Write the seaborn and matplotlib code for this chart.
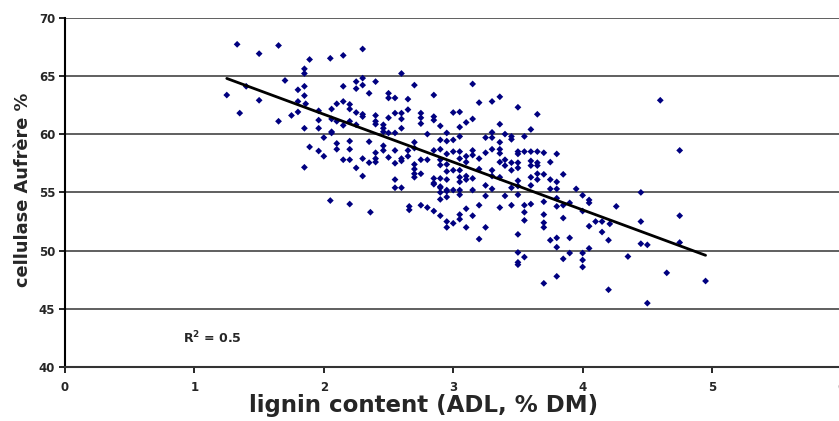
import numpy as np
import pandas as pd
import seaborn as sns
import matplotlib
matplotlib.use("Agg")
import matplotlib.pyplot as plt

# lignin content (ADL, % DM) and cellulase solubility
lignin = [
    1.25, 1.33, 1.35, 1.40, 1.50, 1.50, 1.65, 1.65, 1.70, 1.75, 1.80, 1.80, 1.80, 1.85, 1.85, 1.85,
    1.85, 1.86, 1.85, 1.89, 1.89, 1.85, 1.96, 1.96, 1.96, 1.96, 2.00, 2.00,
    2.05, 2.15, 2.30, 2.06, 2.06, 2.06, 2.06, 2.10, 2.10, 2.10, 2.10, 2.15, 2.15, 2.15, 2.15,
    2.20, 2.20, 2.20, 2.20, 2.20, 2.20, 2.20, 2.05, 2.25, 2.25, 2.25, 2.25, 2.25, 2.30, 2.30,
    2.30, 2.30, 2.30, 2.30, 2.35, 2.35, 2.35, 2.36, 2.40, 2.40, 2.40, 2.40, 2.40, 2.40, 2.40,
    2.46, 2.46, 2.46, 2.46, 2.46,
    2.50, 2.50, 2.50, 2.50, 2.50, 2.55, 2.55, 2.55, 2.55, 2.55, 2.55, 2.55, 2.60, 2.60, 2.60,
    2.60, 2.60, 2.60, 2.60, 2.65, 2.65, 2.65, 2.65, 2.66, 2.66, 2.70, 2.70, 2.70, 2.70, 2.70,
    2.70, 2.70, 2.75, 2.75, 2.75, 2.75, 2.75, 2.75, 2.80, 2.80, 2.80, 2.85, 2.85, 2.85, 2.85,
    2.85, 2.85, 2.85, 2.85, 2.90, 2.90, 2.90, 2.90, 2.90, 2.90, 2.90, 2.90, 2.90, 2.90, 2.90,
    2.95, 2.95, 2.95, 2.95, 2.95, 2.95, 2.95, 2.95, 2.95, 2.95, 2.95,
    3.00, 3.05, 3.00, 3.00, 3.00, 3.00, 3.00, 3.05, 3.05, 3.05, 3.05, 3.05, 3.05, 3.05, 3.05,
    3.05, 3.05, 3.05, 3.10, 3.10, 3.10, 3.10, 3.10, 3.10, 3.10, 3.15, 3.15, 3.15, 3.15, 3.15,
    3.15, 3.15, 3.20, 3.20, 3.20, 3.20, 3.20, 3.25, 3.25, 3.25, 3.25, 3.25, 3.30, 3.30, 3.30,
    3.30, 3.30, 3.30, 3.30, 3.36, 3.36, 3.36, 3.36, 3.36, 3.36, 3.36, 3.36, 3.40, 3.40, 3.40,
    3.40, 3.45, 3.45, 3.45, 3.45, 3.45, 3.45,
    3.50, 3.50, 3.50, 3.50, 3.50, 3.50, 3.50, 3.50, 3.50, 3.50, 3.50, 3.50, 3.55, 3.55, 3.55,
    3.55, 3.55, 3.55, 3.60, 3.60, 3.60, 3.60, 3.60, 3.60, 3.60, 3.65, 3.65, 3.65, 3.65, 3.65,
    3.65, 3.70, 3.70, 3.70, 3.70, 3.70, 3.70, 3.70, 3.75, 3.75, 3.75, 3.75, 3.80, 3.80, 3.80,
    3.80, 3.80, 3.80, 3.80, 3.80, 3.85, 3.85, 3.85, 3.85, 3.90, 3.90, 3.90, 3.95, 4.00, 4.00,
    4.00, 4.00, 4.00, 4.05, 4.05, 4.05, 4.05, 4.10, 4.15, 4.15, 4.20, 4.20, 4.21, 4.26, 4.35,
    4.45, 4.45, 4.45, 4.50, 4.50, 4.60, 4.65, 4.75, 4.75, 4.75, 4.95,
]
cellulase = [
    63.35, 67.7, 61.8, 64.1, 66.9, 62.9, 67.6, 61.1, 64.6, 61.6, 63.8, 62.8, 61.9, 65.6, 65.2, 64.1,
    63.3, 62.6, 60.5, 66.4, 58.9, 57.15, 62.0, 61.2, 60.5, 58.55, 59.7, 58.1,
    66.5, 66.75, 67.3, 62.15, 61.3, 60.2, 60.1, 62.6, 61.1, 59.2, 58.7, 64.1, 62.8, 60.75, 57.8,
    62.55, 62.15, 61.1, 59.4, 58.7, 57.8, 54.0, 54.3, 64.5, 63.9, 61.85, 60.8, 57.1, 64.8, 64.2,
    61.7, 61.5, 57.9, 56.4, 63.5, 59.35, 57.55, 53.3, 64.5, 61.6, 61.1, 60.85, 58.4, 57.9, 57.6,
    60.8, 60.5, 60.2, 59.0, 58.6,
    63.5, 63.1, 61.4, 60.1, 58.0, 63.1, 61.8, 60.1, 58.6, 57.5, 56.1, 55.4, 65.2, 61.8, 61.3,
    60.5, 57.9, 57.7, 55.4, 63.0, 62.1, 58.6, 58.1, 53.8, 53.5, 64.2, 59.3, 58.8, 57.4, 57.0,
    56.6, 56.3, 61.8, 61.4, 60.9, 57.8, 56.6, 53.9, 60.0, 57.8, 53.7, 63.35, 61.5, 61.2, 58.6,
    56.2, 55.8, 55.7, 53.4, 60.7, 59.5, 58.7, 57.8, 57.35, 56.2, 55.5, 55.4, 55.0, 54.4, 53.0,
    60.1, 59.4, 58.3, 57.4, 56.8, 56.1, 55.2, 55.1, 54.6, 52.0, 52.5,
    61.85, 61.9, 59.5, 58.5, 56.9, 55.2, 52.35, 60.6, 59.8, 58.5, 57.9, 56.9, 56.3, 55.9, 55.2,
    54.8, 53.1, 52.7, 61.0, 58.1, 57.6, 56.4, 56.1, 53.6, 52.0, 64.3, 61.3, 58.6, 58.2, 56.2,
    55.2, 53.0, 62.7, 57.9, 57.0, 53.9, 51.0, 59.7, 58.4, 55.6, 54.7, 52.0, 62.8, 60.15, 59.7,
    58.7, 56.9, 56.4, 55.3, 63.2, 60.85, 59.3, 58.7, 58.35, 57.6, 56.3, 53.7, 60.0, 57.8, 57.3,
    54.7, 59.8, 59.55, 57.55, 56.9, 55.4, 53.9,
    62.3, 58.5, 58.3, 57.55, 57.1, 56.0, 55.55, 54.8, 51.4, 49.85, 49.0, 48.8, 59.8, 58.5, 53.9,
    53.3, 52.6, 49.45, 60.4, 58.5, 57.7, 57.3, 56.3, 55.6, 54.0, 61.7, 58.5, 57.55, 57.3, 56.6,
    56.1, 58.4, 56.55, 54.2, 53.1, 52.4, 52.0, 47.2, 57.6, 56.1, 55.3, 50.9, 58.3, 55.9, 55.3,
    54.5, 53.8, 51.1, 50.3, 47.8, 56.55, 53.9, 52.8, 49.3, 54.1, 51.1, 49.8, 55.3, 54.75, 53.4,
    49.8, 49.2, 48.6, 54.35, 54.1, 52.1, 50.2, 52.5, 52.5, 51.6, 50.9, 46.65, 52.3, 53.8, 49.5,
    55.0, 52.5, 50.6, 50.5, 45.5, 62.9, 48.1, 58.6, 53.0, 50.7, 47.4,
]

# linear trend line as printed on the chart (y = a + b x), R2 = 0.5
trend_intercept = 69.9
trend_slope = -4.1
r2_text = "R$^2$ = 0.5"

df = pd.DataFrame({"lignin": lignin, "cellulase": cellulase})

sns.set_style("white")
plt.rcParams["font.family"] = ["DejaVu Sans"]
plt.rcParams["font.weight"] = "bold"
plt.rcParams["mathtext.default"] = "bf"

fig = plt.figure(figsize=(8.39, 4.21), dpi=100)
ax = fig.add_axes([0.0775, 0.1276, 0.9254, 0.8308])

sns.scatterplot(data=df, x="lignin", y="cellulase", marker="D", s=12,
                color="#000080", edgecolor="none", ax=ax, zorder=3)

# trend line over the range of the data
fit_x = np.array([df["lignin"].min(), df["lignin"].max()])
fit_y = trend_intercept + trend_slope * fit_x
sns.lineplot(x=fit_x, y=fit_y, color="black", linewidth=2, ax=ax, zorder=4)

ax.set_xlim(0, 6)
ax.set_ylim(40, 70)
ax.set_xticks(range(0, 7))
ax.set_yticks(range(40, 71, 5))
ax.yaxis.grid(True, color="#444444", linewidth=1.2)
ax.set_axisbelow(True)
for s in ["top", "right"]:
    ax.spines[s].set_visible(False)
ax.spines["left"].set_color("black")
ax.spines["left"].set_linewidth(1.5)
ax.spines["bottom"].set_color("#333333")
ax.spines["bottom"].set_linewidth(1.5)
ax.tick_params(axis="both", direction="out", length=4, width=1.2, color="black",
               labelsize=8.5, bottom=True, left=True)
ax.tick_params(axis="x", pad=6)
ax.tick_params(axis="y", pad=3)
for lab in ax.get_xticklabels() + ax.get_yticklabels():
    lab.set_fontweight("bold")

ax.set_xlabel("lignin content (ADL, % DM)", fontsize=16.5, fontweight="bold")
ax.set_ylabel("cellulase Aufrère %", fontsize=12.8, fontweight="bold")
ax.xaxis.set_label_coords(0.462, -0.075)
ax.yaxis.set_label_coords(-0.042, 0.507)

ax.text(0.91, 42.5, r2_text, fontsize=9, fontweight="bold", va="center")

fig.savefig("out.png", dpi=100)
